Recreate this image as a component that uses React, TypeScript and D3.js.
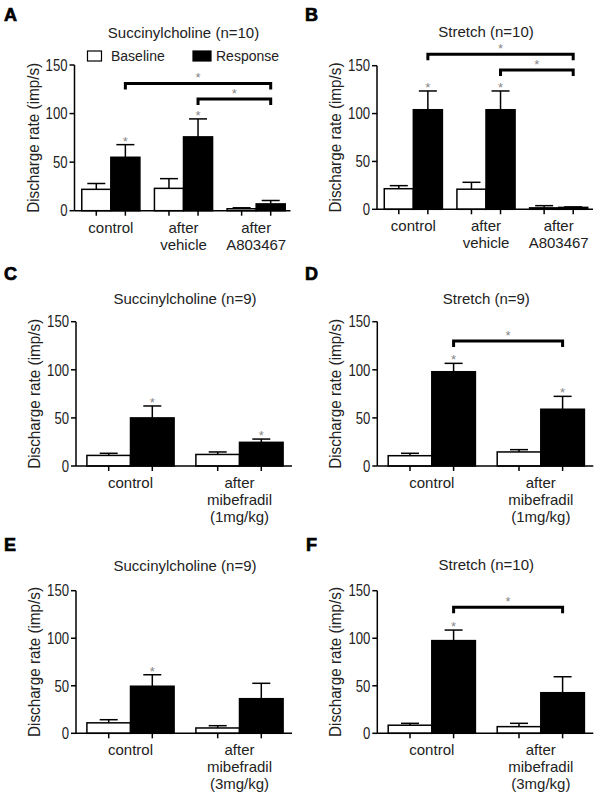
import { useRef, useEffect } from "react";
import * as d3 from "d3";

const panelLetters = ["A", "B", "C", "D", "E", "F"];
const panelTitles = [
  "Succinylcholine (n=10)",
  "Stretch (n=10)",
  "Succinylcholine (n=9)",
  "Stretch (n=9)",
  "Succinylcholine (n=9)",
  "Stretch (n=10)",
];
const seriesNames = ["Baseline", "Response"];
const groupsA803467 = [["control"], ["after", "vehicle"], ["after", "A803467"]];
const groupsMibe1 = [["control"], ["after", "mibefradil", "(1mg/kg)"]];
const groupsMibe3 = [["control"], ["after", "mibefradil", "(3mg/kg)"]];
const panelGroups = [groupsA803467, groupsA803467, groupsMibe1, groupsMibe1, groupsMibe3, groupsMibe3];
const yTicks = [0, 50, 100, 150];
const yLabel = "Discharge rate (imp/s)";

// mean and SEM (imp/s), one row per panel
const baselineMean = [[22, 23, 2], [21.5, 21, 1.5], [11, 12], [10.7, 14.6], [11, 5.6], [8.5, 7]];
const baselineSem = [[6, 10, 1], [3.2, 7.2, 2.3], [2.2, 2.6], [2.5, 2.4], [3.3, 2.4], [2, 3.5]];
const responseMean = [[55, 76, 7], [104, 104, 2], [50, 24.6], [98, 59], [49.5, 36.4], [97.5, 42.7]];
const responseSem = [[13, 18.5, 3.5], [19.6, 19.6, 0.5], [12.4, 3.4], [8.7, 13.4], [12.1, 16.2], [11.1, 16.8]];

// response bars marked with * (vs baseline)
const responseStars = [[1, 1, 0], [1, 1, 0], [1, 1], [1, 1], [1, 0], [1, 0]];
// brackets between response bars: [from group, to group, level in imp/s]
const brackets = [
  [[0, 2, 131], [1, 2, 115]],
  [[0, 2, 162], [1, 2, 145.5]],
  [],
  [[0, 1, 130]],
  [],
  [[0, 1, 132.5]],
];

// panel placement in pixels
const layout = [
  { x: 74.5, y0: 210.7, y1: 65, title: 38, lx: 4, ly: 21 },
  { x: 377, y0: 209.3, y1: 65.7, title: 37, lx: 305, ly: 21 },
  { x: 76, y0: 466, y1: 321.7, title: 304, lx: 4, ly: 280 },
  { x: 377.3, y0: 466, y1: 321.7, title: 304, lx: 305, ly: 280 },
  { x: 76, y0: 733.3, y1: 590.7, title: 571, lx: 4, ly: 551 },
  { x: 377.3, y0: 733.3, y1: 590.7, title: 570, lx: 306, ly: 551 },
];

const FONT = "Liberation Sans, Arial, sans-serif";
const TEXT = "#222";

const App = () => {
  const svgRef = useRef(null);

  useEffect(() => {
    const svg = d3.select(svgRef.current);
    svg.selectAll("*").remove();
    svg.append("rect").attr("width", 602).attr("height", 802).attr("fill", "#fff");

    layout.forEach((L, p) => {
      const g = svg.append("g").attr("font-family", FONT);
      const groups = panelGroups[p];
      const n = groups.length;
      const plotW = 218;

      const y = d3.scaleLinear().domain([0, 150]).range([L.y0, L.y1]);
      const x0 = d3
        .scaleBand()
        .domain(d3.range(n))
        .range([L.x, L.x + plotW])
        .paddingInner(0.2)
        .paddingOuter(0.1);
      const x1 = d3.scaleBand().domain([0, 1]).range([0, x0.bandwidth()]);
      const barCenter = (i, s) => x0(i) + x1(s) + x1.bandwidth() / 2;

      const series = [
        { mean: baselineMean[p], sem: baselineSem[p], fill: "#fff" },
        { mean: responseMean[p], sem: responseSem[p], fill: "#000" },
      ];

      // error bars (upward only)
      series.forEach((s, si) => {
        s.mean.forEach((m, i) => {
          const cx = barCenter(i, si);
          const top = y(m + s.sem[i]);
          g.append("line")
            .attr("x1", cx).attr("x2", cx)
            .attr("y1", y(m)).attr("y2", top)
            .attr("stroke", "#000").attr("stroke-width", 1.5);
          g.append("line")
            .attr("x1", cx - 9).attr("x2", cx + 9)
            .attr("y1", top).attr("y2", top)
            .attr("stroke", "#000").attr("stroke-width", 1.5);
        });
      });

      // bars
      series.forEach((s, si) => {
        g.selectAll(null)
          .data(s.mean)
          .join("rect")
          .attr("x", (d, i) => x0(i) + x1(si))
          .attr("y", (d) => y(d))
          .attr("width", x1.bandwidth())
          .attr("height", (d) => L.y0 - y(d))
          .attr("fill", s.fill)
          .attr("stroke", "#000")
          .attr("stroke-width", 1.5);
      });

      // stars above response bars
      responseStars[p].forEach((on, i) => {
        if (!on) return;
        g.append("text")
          .attr("x", barCenter(i, 1))
          .attr("y", y(responseMean[p][i] + responseSem[p][i]) + 1)
          .attr("text-anchor", "middle")
          .attr("font-size", 13)
          .attr("fill", "#888")
          .text("*");
      });

      // significance brackets
      brackets[p].forEach(([a, b, level]) => {
        const xa = barCenter(a, 1);
        const xb = barCenter(b, 1);
        const yl = y(level);
        g.append("path")
          .attr("d", `M${xa},${yl + 6}V${yl}H${xb}V${yl + 6}`)
          .attr("fill", "none")
          .attr("stroke", "#000")
          .attr("stroke-width", 3);
        g.append("text")
          .attr("x", (xa + xb) / 2)
          .attr("y", yl - 1)
          .attr("text-anchor", "middle")
          .attr("font-size", 13)
          .attr("fill", "#888")
          .text("*");
      });

      // y axis
      g.append("line")
        .attr("x1", L.x).attr("x2", L.x)
        .attr("y1", L.y0).attr("y2", L.y1)
        .attr("stroke", "#000").attr("stroke-width", 1.5);
      yTicks.forEach((t) => {
        g.append("line")
          .attr("x1", L.x - 5).attr("x2", L.x)
          .attr("y1", y(t)).attr("y2", y(t))
          .attr("stroke", "#000").attr("stroke-width", 1.5);
        // narrow, tall digits like the original export
        g.append("text")
          .attr("transform", `translate(${L.x - 7},${y(t)}) scale(0.82,1)`)
          .attr("dy", "0.36em")
          .attr("text-anchor", "end")
          .attr("font-size", 16)
          .attr("fill", TEXT)
          .text(t);
      });
      g.append("text")
        .attr("transform", `translate(${L.x - 36},${(L.y0 + L.y1) / 2}) rotate(-90)`)
        .attr("text-anchor", "middle")
        .attr("font-size", 16)
        .attr("textLength", 150)
        .attr("lengthAdjust", "spacingAndGlyphs")
        .attr("fill", TEXT)
        .text(yLabel);

      // x axis
      g.append("line")
        .attr("x1", L.x).attr("x2", L.x + plotW - 2)
        .attr("y1", L.y0).attr("y2", L.y0)
        .attr("stroke", "#000").attr("stroke-width", 1.5);
      groups.forEach((lines, i) => {
        [0, 1].forEach((si) => {
          const cx = barCenter(i, si);
          g.append("line")
            .attr("x1", cx).attr("x2", cx)
            .attr("y1", L.y0).attr("y2", L.y0 + 5)
            .attr("stroke", "#000").attr("stroke-width", 1.5);
        });
        const t = g.append("text")
          .attr("text-anchor", "middle")
          .attr("font-size", 15)
          .attr("fill", TEXT);
        lines.forEach((ln, k) => {
          t.append("tspan")
            .attr("x", x0(i) + x0.bandwidth() / 2)
            .attr("y", L.y0 + 22 + k * 17)
            .text(ln);
        });
      });

      // title and panel letter
      g.append("text")
        .attr("x", L.x + 109)
        .attr("y", L.title)
        .attr("text-anchor", "middle")
        .attr("font-size", 15)
        .attr("fill", TEXT)
        .text(panelTitles[p]);
      g.append("text")
        .attr("x", L.lx)
        .attr("y", L.ly)
        .attr("font-size", 18)
        .attr("font-weight", "bold")
        .attr("fill", "#000")
        .attr("stroke", "#000")
        .attr("stroke-width", 0.7)
        .text(panelLetters[p]);

      // legend (panel A only)
      if (p === 0) {
        const items = [
          { name: seriesNames[0], box: [87.5, 51, 14, 10], fill: "#fff", tx: 111 },
          { name: seriesNames[1], box: [193, 51, 18, 10], fill: "#000", tx: 216 },
        ];
        items.forEach((it) => {
          g.append("rect")
            .attr("x", it.box[0]).attr("y", it.box[1])
            .attr("width", it.box[2]).attr("height", it.box[3])
            .attr("fill", it.fill)
            .attr("stroke", "#000").attr("stroke-width", 1.2);
          g.append("text")
            .attr("x", it.tx)
            .attr("y", 61)
            .attr("font-size", 14)
            .attr("fill", TEXT)
            .text(it.name);
        });
      }
    });
  }, []);

  return (
    <svg
      ref={svgRef}
      width={602}
      height={802}
      style={{ position: "absolute", left: 0, top: 0 }}
    ></svg>
  );
};

export default App;
